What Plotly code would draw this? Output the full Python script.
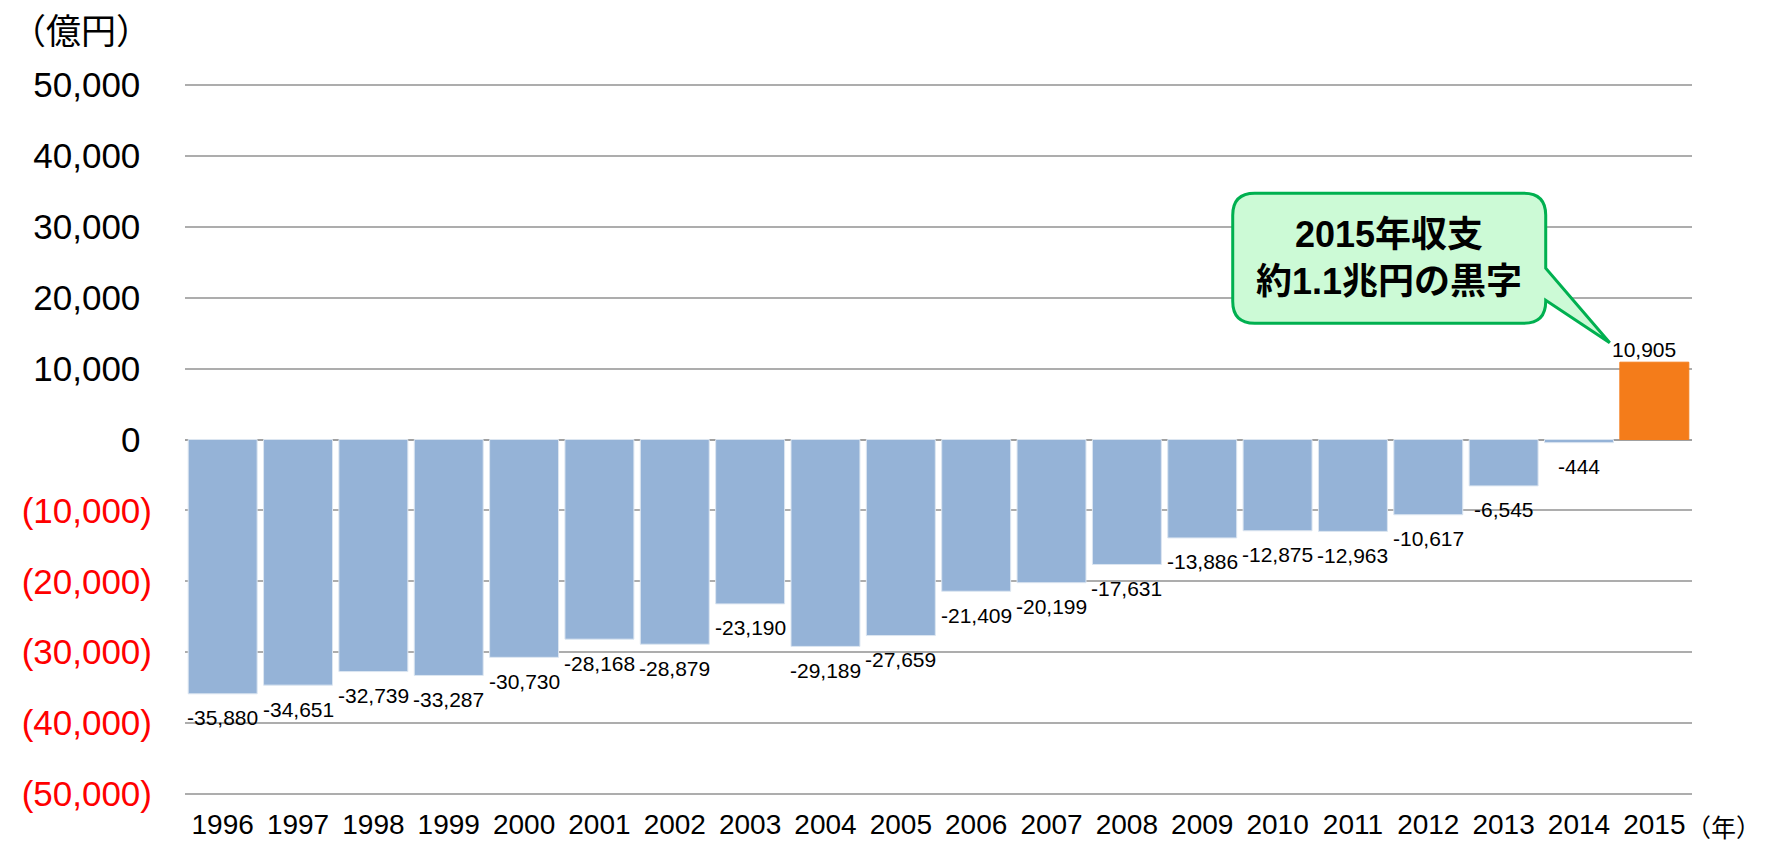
import plotly.graph_objects as go

years = ["1996", "1997", "1998", "1999", "2000", "2001", "2002", "2003", "2004", "2005",
         "2006", "2007", "2008", "2009", "2010", "2011", "2012", "2013", "2014", "2015"]
values = [-35880, -34651, -32739, -33287, -30730, -28168, -28879, -23190, -29189, -27659,
          -21409, -20199, -17631, -13886, -12875, -12963, -10617, -6545, -444, 10905]
y_ticks = [50000, 40000, 30000, 20000, 10000, 0, -10000, -20000, -30000, -40000, -50000]
unit_label = "（億円）"
x_unit_label = "（年）"
callout_lines = ["2015年収支", "約1.1兆円の黒字"]

NEG_COLOR = "#95B3D7"
POS_COLOR = "#F47C1A"
LATIN = "Liberation Sans, Arial, sans-serif"
CJK = "Noto Sans CJK JP, sans-serif"
MIXED = "Liberation Sans, Noto Sans CJK JP, sans-serif"


def fmt_tick(v):
    if v < 0:
        return f"<span style='color:#FF0000'>({abs(v):,})</span>"
    return f"{v:,}<span style='color:#FFFFFF'>)</span>"


fig = go.Figure()
fig.add_trace(go.Bar(
    x=years, y=values,
    marker=dict(color=[NEG_COLOR if v < 0 else POS_COLOR for v in values],
                line=dict(color=["#DCE6F1" if v < 0 else POS_COLOR for v in values], width=1)),
    hoverinfo="x+y",
))

annotations = []
for i, (yr, v) in enumerate(zip(years, values)):
    annotations.append(dict(
        x=i, y=v, xref="x", yref="y", text=f"{v:,}", showarrow=False,
        xanchor="center", yanchor="middle",
        yshift=-24 if v < 0 else 13, xshift=0 if v < 0 else -10,
        font=dict(family=LATIN, size=21, color="#000000"),
    ))

annotations.append(dict(
    x=0, y=1, xref="paper", yref="paper", text=unit_label, showarrow=False,
    xanchor="center", yanchor="middle", xshift=-104, yshift=56,
    font=dict(family=CJK, size=35, color="#000000"),
))
annotations.append(dict(
    x=1, y=0, xref="paper", yref="paper", text=x_unit_label, showarrow=False,
    xanchor="right", yanchor="middle", xshift=70, yshift=-31, borderpad=0,
    font=dict(family=CJK, size=25, color="#000000"),
))

# callout bubble (pixel geometry anchored at the 2015 category on the zero line)
L, R, T, B, r = -421.6, -108.6, 246.3, 116.3, 22
ua, la = 171.3, 139.3
tip = (-44.6, 96.8)
path = (f"M {L + r},{T} L {R - r},{T} Q {R},{T} {R},{T - r} "
        f"L {R},{ua} L {tip[0]},{tip[1]} L {R},{la} "
        f"L {R},{B + r} Q {R},{B} {R - r},{B} "
        f"L {L + r},{B} Q {L},{B} {L},{B + r} "
        f"L {L},{T - r} Q {L},{T} {L + r},{T} Z")
fig.add_shape(type="path", xref="x", yref="y", xsizemode="pixel", ysizemode="pixel",
              xanchor=19, yanchor=0, path=path,
              fillcolor="#CCFAD6", line=dict(color="#00B050", width=3), layer="above")

annotations.append(dict(
    x=19, y=0, xref="x", yref="y", text="<br>".join(callout_lines), showarrow=False,
    xanchor="center", yanchor="middle", xshift=(L + R) / 2, yshift=(T + B) / 2,
    align="center",
    font=dict(family=MIXED, size=36, color="#000000", weight="bold"),
))

fig.update_layout(
    width=1766, height=844,
    margin=dict(l=185, r=74, t=84, b=49),
    paper_bgcolor="#FFFFFF", plot_bgcolor="#FFFFFF",
    bargap=0.085,
    showlegend=False,
    annotations=annotations,
    font=dict(family=LATIN, color="#000000"),
)
fig.update_xaxes(
    type="category", showgrid=False, showline=False, ticks="", automargin=False,
    tickfont=dict(family=LATIN, size=28, color="#000000"),
    ticklabelstandoff=10,
)
fig.update_yaxes(
    range=[-50150, 50150], tickvals=y_ticks, ticktext=[fmt_tick(v) for v in y_ticks],
    showgrid=True, gridcolor="#ADADAD", gridwidth=1.5, automargin=False,
    zeroline=True, zerolinecolor="#A0A0A0", zerolinewidth=1.5,
    showline=False, ticks="",
    tickfont=dict(family=LATIN, size=35, color="#000000"),
    ticklabelstandoff=32,
)

fig.write_html("out.html", config={"displayModeBar": False},
               post_script="document.body.style.margin='0';")
